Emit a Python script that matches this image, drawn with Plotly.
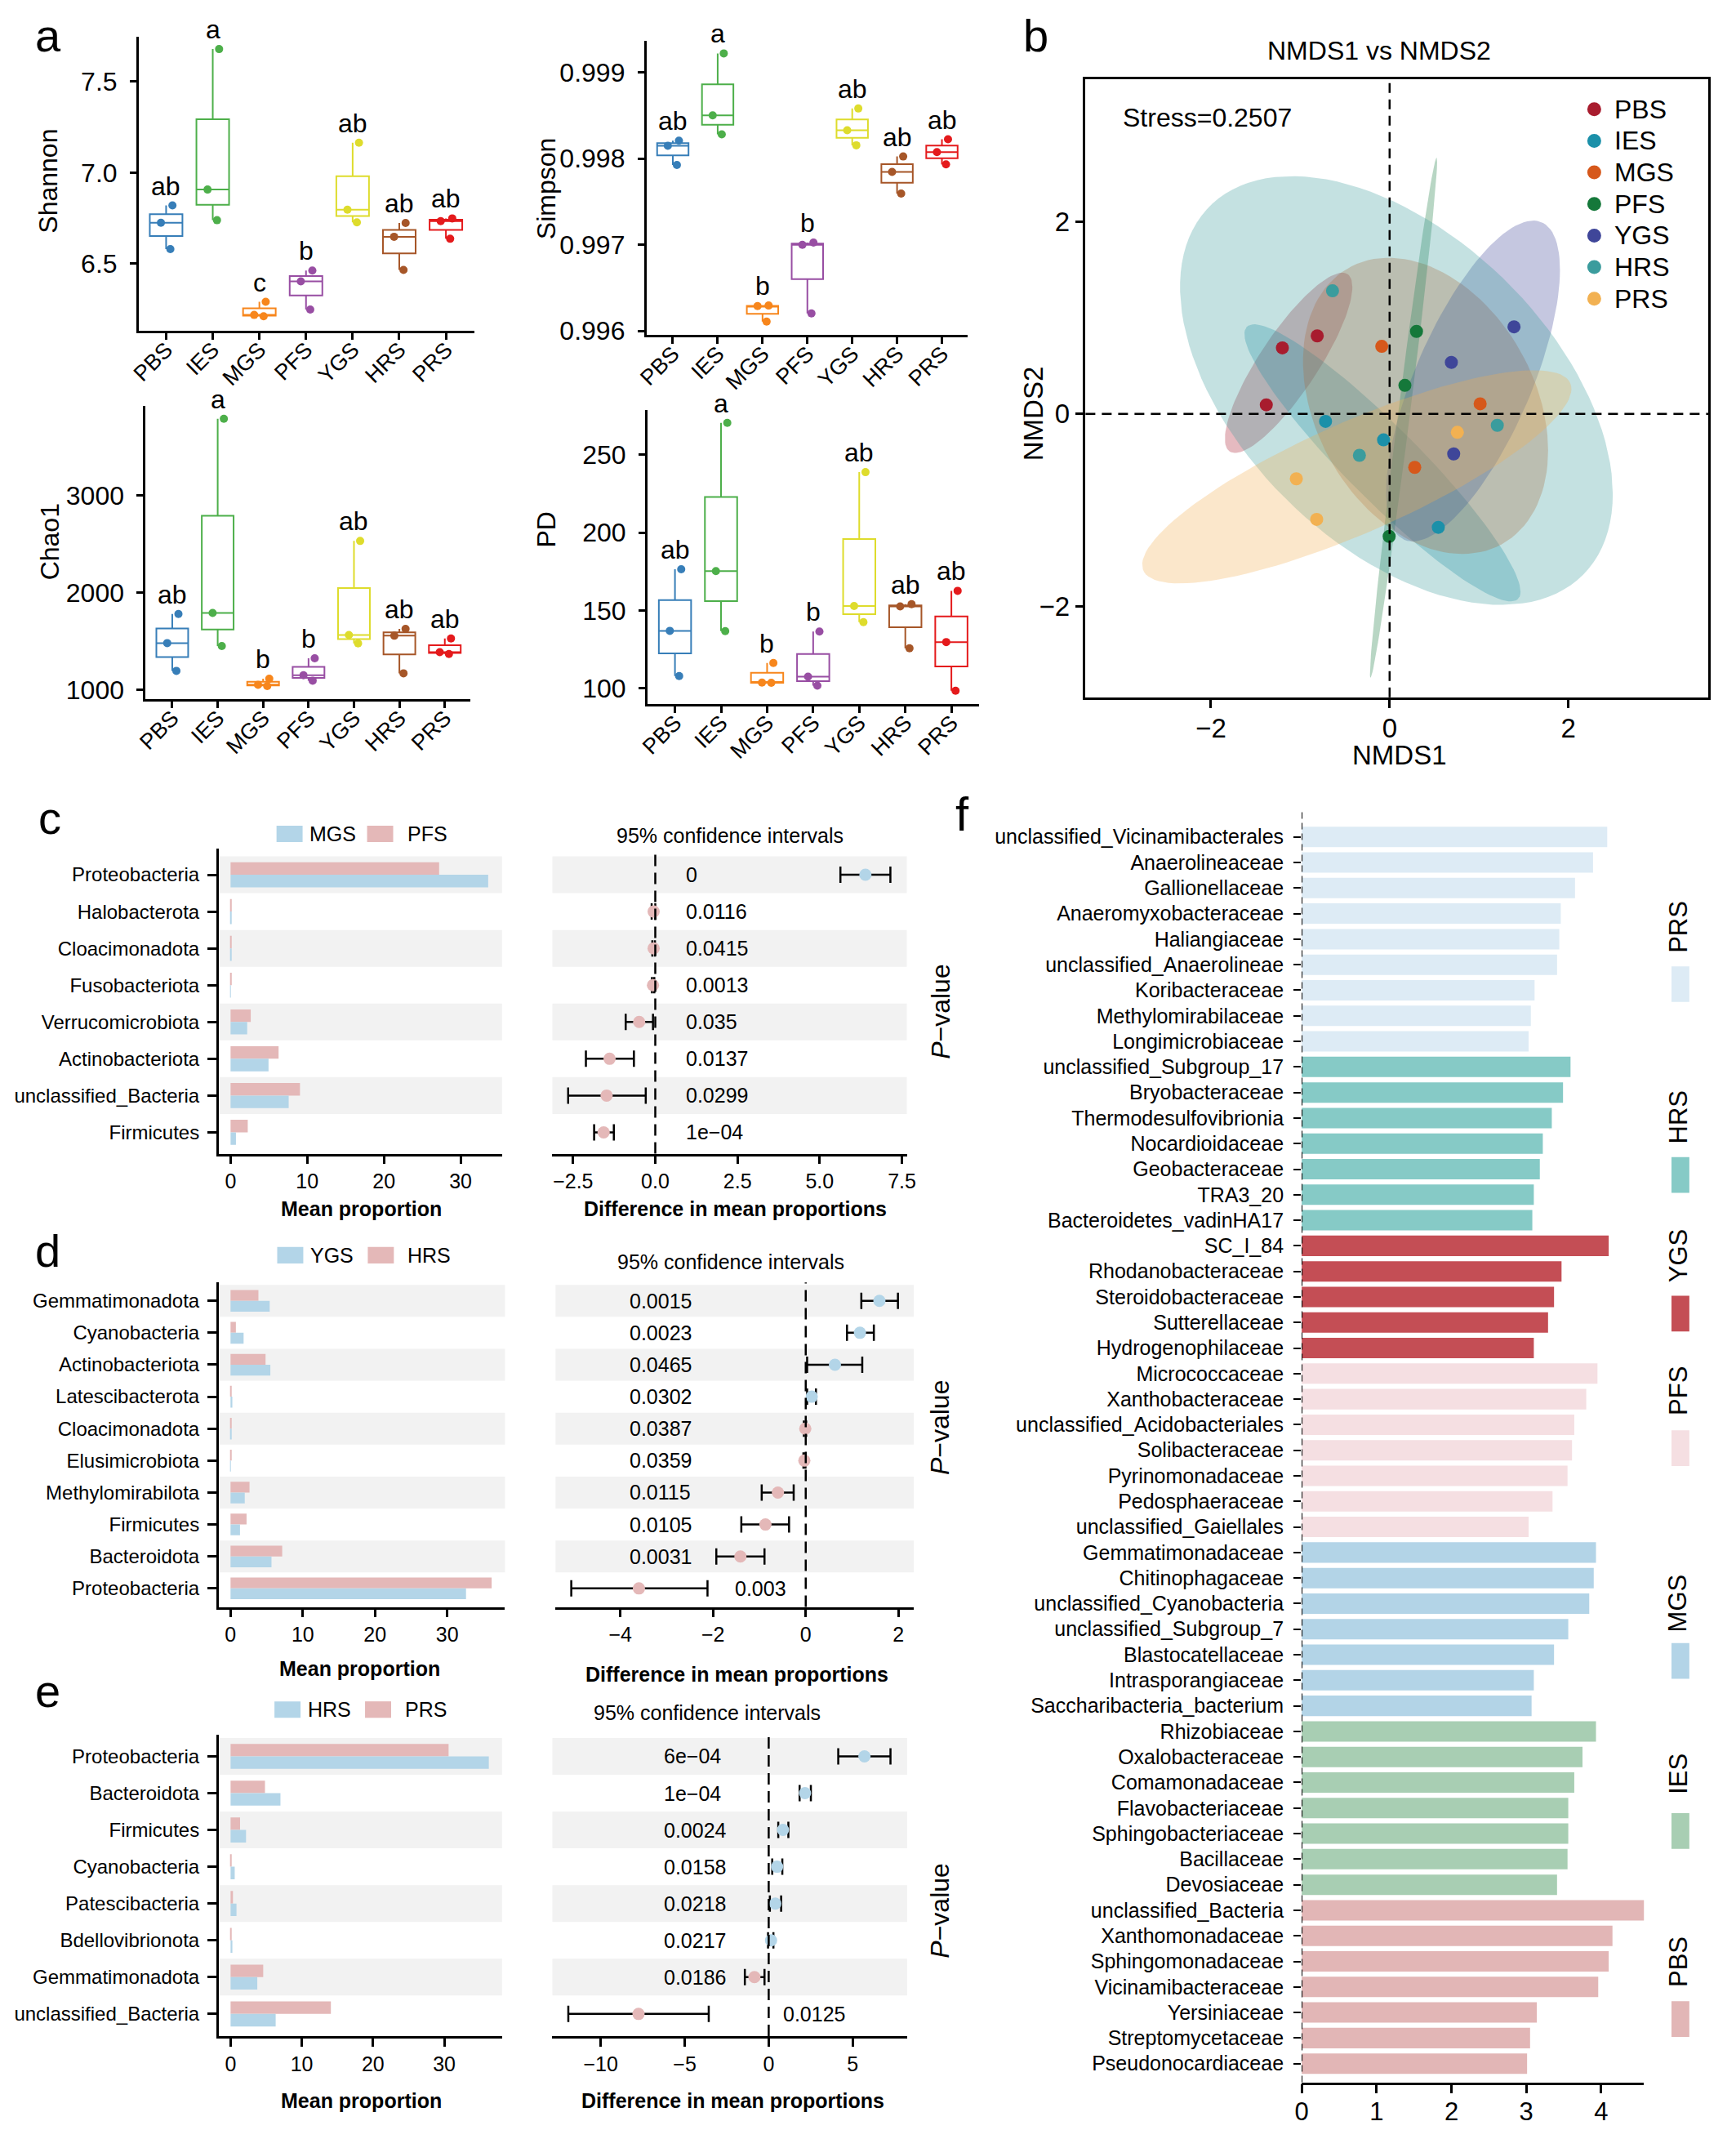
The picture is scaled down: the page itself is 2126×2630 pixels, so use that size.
import numpy as np
import plotly.graph_objects as go

W, H = 2126, 2630
K = W / 1265.0          # layout below measured on a 1265 px wide copy
OFF = 8                 # page margin of the html body, in px
FONT = 'Liberation Sans, Arial, Helvetica, sans-serif'

groups = ['PBS', 'IES', 'MGS', 'PFS', 'YGS', 'HRS', 'PRS']

# ---- panel a: alpha diversity (3 samples per group) ----
shannon = {
    'PBS': [6.820, 6.725, 6.580], 'IES': [7.678, 6.907, 6.739],
    'MGS': [6.291, 6.219, 6.212], 'PFS': [6.463, 6.403, 6.249],
    'YGS': [7.164, 6.797, 6.727], 'HRS': [6.724, 6.648, 6.466],
    'PRS': [6.749, 6.734, 6.637],
}
simpson = {
    'PBS': [0.998209, 0.998149, 0.997927], 'IES': [0.999222, 0.998503, 0.998282],
    'MGS': [0.996294, 0.996288, 0.996108], 'PFS': [0.997025, 0.997000, 0.996203],
    'YGS': [0.998582, 0.998329, 0.998155], 'HRS': [0.998025, 0.997845, 0.997595],
    'PRS': [0.998225, 0.998076, 0.997934],
}
chao1 = {
    'PBS': [1781, 1481, 1195], 'IES': [3792, 1792, 1450],
    'MGS': [1114, 1052, 1038], 'PFS': [1324, 1150, 1094],
    'YGS': [2533, 1565, 1478], 'HRS': [1627, 1557, 1170],
    'PRS': [1529, 1388, 1369],
}
pd_index = {
    'PBS': [176.4, 136.9, 107.9], 'IES': [270.5, 175.3, 136.7],
    'MGS': [116.3, 103.7, 103.5], 'PFS': [136.5, 107.5, 101.7],
    'YGS': [238.8, 152.8, 142.5], 'HRS': [154.0, 152.6, 125.7],
    'PRS': [162.6, 129.7, 98.4],
}
shannon_letters = ['ab', 'a', 'c', 'b', 'ab', 'ab', 'ab']
simpson_letters = ['ab', 'a', 'b', 'b', 'ab', 'ab', 'ab']
chao1_letters = ['ab', 'a', 'b', 'b', 'ab', 'ab', 'ab']
pd_letters = ['ab', 'a', 'b', 'b', 'ab', 'ab', 'ab']

# ---- panel b: NMDS scores ----
nmds1 = {
    'PBS': [-1.200, -0.810, -1.380], 'IES': [-0.717, -0.068, 0.545],
    'MGS': [-0.088, 1.013, 0.281], 'PFS': [0.301, 0.171, -0.005],
    'YGS': [1.392, 0.691, 0.717], 'HRS': [-0.639, -0.338, 1.205],
    'PRS': [-1.044, -0.816, 0.758],
}
nmds2 = {
    'PBS': [0.686, 0.810, 0.094], 'IES': [-0.078, -0.270, -1.179],
    'MGS': [0.701, 0.104, -0.556], 'PFS': [0.857, 0.296, -1.273],
    'YGS': [0.904, 0.535, -0.416], 'HRS': [1.278, -0.431, -0.119],
    'PRS': [-0.675, -1.096, -0.192],
}
stress = 0.2507

# ---- panel c: MGS vs PFS ----
c_cats = ['Proteobacteria', 'Halobacterota', 'Cloacimonadota', 'Fusobacteriota',
          'Verrucomicrobiota', 'Actinobacteriota', 'unclassified_Bacteria', 'Firmicutes']
c_mgs = [33.6, 0.05, 0.05, 0.03, 2.17, 4.95, 7.58, 0.70]
c_pfs = [27.2, 0.15, 0.12, 0.15, 2.63, 6.26, 9.05, 2.24]
c_diff = [6.39, -0.05, -0.05, -0.07, -0.49, -1.39, -1.48, -1.57]
c_lo = [5.63, -0.11, -0.09, -0.10, -0.90, -2.11, -2.65, -1.86]
c_hi = [7.15, 0.00, -0.01, -0.03, -0.07, -0.65, -0.29, -1.26]
c_p = ['0', '0.0116', '0.0415', '0.0013', '0.035', '0.0137', '0.0299', '1e\u221204']

# ---- panel d: YGS vs HRS ----
d_cats = ['Gemmatimonadota', 'Cyanobacteria', 'Actinobacteriota', 'Latescibacterota',
          'Cloacimonadota', 'Elusimicrobiota', 'Methylomirabilota', 'Firmicutes',
          'Bacteroidota', 'Proteobacteria']
d_ygs = [5.42, 1.81, 5.51, 0.25, 0.05, 0.04, 1.97, 1.31, 5.67, 32.6]
d_hrs = [3.86, 0.74, 4.85, 0.10, 0.10, 0.08, 2.63, 2.22, 7.15, 36.15]
d_diff = [1.59, 1.17, 0.63, 0.13, -0.01, -0.03, -0.60, -0.87, -1.41, -3.60]
d_lo = [1.20, 0.89, 0.03, 0.03, -0.04, -0.05, -0.95, -1.39, -1.93, -5.06]
d_hi = [1.99, 1.47, 1.22, 0.22, 0.01, -0.005, -0.26, -0.36, -0.89, -2.12]
d_p = ['0.0015', '0.0023', '0.0465', '0.0302', '0.0387', '0.0359', '0.0115',
       '0.0105', '0.0031', '0.003']

# ---- panel e: HRS vs PRS ----
e_cats = ['Proteobacteria', 'Bacteroidota', 'Firmicutes', 'Cyanobacteria',
          'Patescibacteria', 'Bdellovibrionota', 'Gemmatimonadota', 'unclassified_Bacteria']
e_hrs = [36.25, 7.00, 2.17, 0.58, 0.83, 0.25, 3.75, 6.33]
e_prs = [30.6, 4.83, 1.33, 0.10, 0.33, 0.10, 4.58, 14.08]
e_diff = [5.70, 2.16, 0.85, 0.50, 0.39, 0.14, -0.85, -7.75]
e_lo = [4.14, 1.84, 0.57, 0.21, 0.07, -0.04, -1.42, -11.93]
e_hi = [7.25, 2.51, 1.17, 0.81, 0.74, 0.28, -0.25, -3.57]
e_p = ['6e\u221204', '1e\u221204', '0.0024', '0.0158', '0.0218', '0.0217', '0.0186', '0.0125']

# ---- panel f: LDA scores of biomarkers ----
f_names = [
    'unclassified_Vicinamibacterales', 'Anaerolineaceae', 'Gallionellaceae',
    'Anaeromyxobacteraceae', 'Haliangiaceae', 'unclassified_Anaerolineae',
    'Koribacteraceae', 'Methylomirabilaceae', 'Longimicrobiaceae',
    'unclassified_Subgroup_17', 'Bryobacteraceae', 'Thermodesulfovibrionia',
    'Nocardioidaceae', 'Geobacteraceae', 'TRA3_20', 'Bacteroidetes_vadinHA17',
    'SC_I_84', 'Rhodanobacteraceae', 'Steroidobacteraceae', 'Sutterellaceae',
    'Hydrogenophilaceae',
    'Micrococcaceae', 'Xanthobacteraceae', 'unclassified_Acidobacteriales',
    'Solibacteraceae', 'Pyrinomonadaceae', 'Pedosphaeraceae', 'unclassified_Gaiellales',
    'Gemmatimonadaceae', 'Chitinophagaceae', 'unclassified_Cyanobacteria',
    'unclassified_Subgroup_7', 'Blastocatellaceae', 'Intrasporangiaceae',
    'Saccharibacteria_bacterium',
    'Rhizobiaceae', 'Oxalobacteraceae', 'Comamonadaceae', 'Flavobacteriaceae',
    'Sphingobacteriaceae', 'Bacillaceae', 'Devosiaceae',
    'unclassified_Bacteria', 'Xanthomonadaceae', 'Sphingomonadaceae',
    'Vicinamibacteraceae', 'Yersiniaceae', 'Streptomycetaceae', 'Pseudonocardiaceae',
]
f_vals = [4.08, 3.89, 3.65, 3.46, 3.44, 3.41, 3.11, 3.06, 3.03,
          3.59, 3.49, 3.34, 3.22, 3.18, 3.10, 3.08,
          4.10, 3.47, 3.37, 3.29, 3.10,
          3.95, 3.80, 3.64, 3.61, 3.55, 3.35, 3.03,
          3.93, 3.90, 3.84, 3.56, 3.37, 3.10, 3.07,
          3.93, 3.75, 3.64, 3.56, 3.56, 3.55, 3.41,
          4.59, 4.15, 4.10, 3.96, 3.14, 3.05, 3.01]
f_group = (['PRS'] * 9 + ['HRS'] * 7 + ['YGS'] * 5 + ['PFS'] * 7
           + ['MGS'] * 7 + ['IES'] * 7 + ['PBS'] * 7)
f_legend = ['PRS', 'HRS', 'YGS', 'PFS', 'MGS', 'IES', 'PBS']

# ---- colours ----
box_col = {'PBS': '#377EB8', 'IES': '#4DAF4A', 'MGS': '#F7861C', 'PFS': '#984EA3',
           'YGS': '#DEDC2C', 'HRS': '#A65628', 'PRS': '#E41A1C'}
nmds_col = {'PBS': '#A81C2E', 'IES': '#1B90A9', 'MGS': '#D6581B', 'PFS': '#15783A',
            'YGS': '#3F4699', 'HRS': '#3B9C9D', 'PRS': '#F2B152'}
f_col = {'PRS': '#DDEBF5', 'HRS': '#86CAC6', 'YGS': '#C44E55', 'PFS': '#F5DFE2',
         'MGS': '#B3D4E7', 'IES': '#A8CEB3', 'PBS': '#E2B6B6'}
BLUE = '#B3D5E8'
PINK = '#E4B8B8'
BAND = '#F2F2F2'


def px(x):
    return (x * K - OFF) / W


def py(y):
    return 1 - (y * K - OFF) / H


def hex_rgba(h, a):
    h = h.lstrip('#')
    return 'rgba(%d,%d,%d,%s)' % (int(h[0:2], 16), int(h[2:4], 16), int(h[4:6], 16), a)


def axis_style(size=32, **kw):
    base = dict(showline=True, linecolor='black', linewidth=2.5, ticks='outside',
                ticklen=8, tickwidth=2.5, tickcolor='black', showgrid=False,
                zeroline=False, automargin=False,
                tickfont=dict(family=FONT, size=size, color='black'))
    base.update(kw)
    return base


def note(x, y, text, size, **kw):
    a = dict(x=px(x), y=py(y), xref='paper', yref='paper', text=text, showarrow=False,
             xanchor='center', yanchor='middle',
             font=dict(family=FONT, size=size, color='black'))
    a.update(kw)
    return a


fig = go.Figure()
layout = {}
shapes = []
annotations = []

# ================= panel a =================
alpha_panels = [
    ('Shannon', shannon, shannon_letters,
     dict(x=(101, 346), y=(27, 241), xr=(-0.59, 6.62), yr=(6.132, 7.744),
          dtick=0.5, fmt='.1f', title=(35, 132))),
    ('Simpson', simpson, simpson_letters,
     dict(x=(471, 705), y=(30, 244), xr=(-0.59, 6.57), yr=(0.995953, 0.999364),
          dtick=0.001, fmt='.3f', title=(398, 137))),
    ('Chao1', chao1, chao1_letters,
     dict(x=(106, 343), y=(295.5, 509.4), xr=(-0.59, 6.57), yr=(903, 3927),
          dtick=1000, fmt='d', title=(36, 395))),
    ('PD', pd_index, pd_letters,
     dict(x=(471.7, 713.4), y=(298.6, 512.8), xr=(-0.6, 6.6), yr=(90.0, 278.8),
          dtick=50, fmt='d', title=(398, 386))),
]

for i, (name, vals, letters, g) in enumerate(alpha_panels):
    n = '' if i == 0 else str(i + 1)
    xa, ya = 'x' + n, 'y' + n
    for grp in groups:
        fig.add_box(x=[grp] * len(vals[grp]), y=vals[grp], xaxis=xa, yaxis=ya,
                    line=dict(color=box_col[grp], width=2), fillcolor='rgba(255,255,255,0)',
                    boxpoints='all', jitter=0.5, pointpos=0, width=0.7, whiskerwidth=0,
                    quartilemethod='inclusive', marker=dict(color=box_col[grp], size=10),
                    showlegend=False, hoverinfo='y')
    for grp, letter in zip(groups, letters):
        annotations.append(dict(x=grp, y=max(vals[grp]), xref=xa, yref=ya, text=letter,
                                showarrow=False, xanchor='center', yanchor='bottom', yshift=4,
                                font=dict(family=FONT, size=32, color='black')))
    layout['xaxis' + n] = axis_style(size=27, domain=[px(g['x'][0]), px(g['x'][1])],
                                     anchor=ya, type='category', categoryorder='array',
                                     categoryarray=groups, range=list(g['xr']),
                                     tickangle=-45, ticklabelstandoff=-14)
    layout['yaxis' + n] = axis_style(domain=[py(g['y'][1]), py(g['y'][0])], anchor=xa,
                                     range=list(g['yr']), dtick=g['dtick'],
                                     tickformat=g['fmt'], ticklabelstandoff=9)
    annotations.append(note(g['title'][0], g['title'][1], name, 32, textangle=-90))

annotations.append(note(35, 26, 'a', 56))


# ================= panel b =================
def ellipse(xs, ys, npts=120):
    pts = np.column_stack([xs, ys])
    centre = pts.mean(axis=0)
    chol = np.linalg.cholesky(np.cov(pts.T))
    t = np.linspace(0, 2 * np.pi, npts)
    ring = np.sqrt(5.991) * chol @ np.vstack([np.cos(t), np.sin(t)])
    return centre[0] + ring[0], centre[1] + ring[1]


for grp in groups:
    ex, ey = ellipse(nmds1[grp], nmds2[grp])
    fig.add_scatter(x=ex, y=ey, xaxis='x5', yaxis='y5', mode='lines', fill='toself',
                    fillcolor=hex_rgba(nmds_col[grp], 0.3), line=dict(width=0),
                    showlegend=False, hoverinfo='skip')
for grp in groups:
    fig.add_scatter(x=nmds1[grp], y=nmds2[grp], xaxis='x5', yaxis='y5', mode='markers',
                    marker=dict(size=16, color=nmds_col[grp]), name=grp, showlegend=False)

layout['xaxis5'] = axis_style(size=33, domain=[px(791), px(1245)], anchor='y5',
                              range=[-3.403, 3.569], dtick=2, mirror=True, ticklen=10,
                              ticklabelstandoff=-3)
layout['yaxis5'] = axis_style(size=33, domain=[py(508), py(57.5)], anchor='x5',
                              range=[-2.945, 3.48], dtick=2, mirror=True, ticklen=10)
for xref, yref, xs, ys in [('x5', 'y5 domain', (0, 0), (0, 1)),
                           ('x5 domain', 'y5', (0, 1), (0, 0))]:
    shapes.append(dict(type='line', xref=xref, yref=yref, x0=xs[0], x1=xs[1],
                       y0=ys[0], y1=ys[1], line=dict(color='black', width=2.5, dash='12px,8px')))
annotations.extend([
    note(755, 26, 'b', 56),
    note(1005, 37, 'NMDS1 vs NMDS2', 32),
    note(817, 85.5, 'Stress=%.4f' % stress, 32, xanchor='left'),
    note(1020, 550, 'NMDS1', 33),
    note(753, 301.5, 'NMDS2', 33, textangle=-90),
])
# legend of panel b: dot + label per group
r = 8.5
for k, grp in enumerate(groups):
    yc = 79.6 + 23 * k
    shapes.append(dict(type='circle', xref='paper', yref='paper',
                       x0=px(1161.7) - r / W, x1=px(1161.7) + r / W,
                       y0=py(yc) - r / H, y1=py(yc) + r / H,
                       fillcolor=nmds_col[grp], line=dict(width=0)))
    annotations.append(note(1175, yc, grp, 32, xanchor='left'))


# ================= panels c, d, e =================
def stamp(nl, nr, cats, first, second, diff, lo, hi, pvals, names, g):
    xl, yl, xr, yr = 'x%d' % nl, 'y%d' % nl, 'x%d' % nr, 'y%d' % nr
    fig.add_bar(y=cats, x=second, orientation='h', width=0.34, offset=-0.34,
                marker=dict(color=PINK, line=dict(width=0)), xaxis=xl, yaxis=yl,
                showlegend=False, hoverinfo='x')
    fig.add_bar(y=cats, x=first, orientation='h', width=0.34, offset=0.0,
                marker=dict(color=BLUE, line=dict(width=0)), xaxis=xl, yaxis=yl,
                showlegend=False, hoverinfo='x')
    diff, lo, hi = np.array(diff), np.array(lo), np.array(hi)
    fig.add_scatter(x=diff, y=cats, xaxis=xr, yaxis=yr, mode='markers',
                    marker=dict(size=15, color=[BLUE if v > 0 else PINK for v in diff]),
                    error_x=dict(type='data', symmetric=False, array=hi - diff,
                                 arrayminus=diff - lo, color='black', thickness=2.5, width=10),
                    showlegend=False)
    top, bottom = g['y']
    ydom = [py(bottom), py(top)]
    yrange = list(g['yr'])
    layout['xaxis%d' % nl] = axis_style(size=25, domain=[px(g['xl'][0]), px(g['xl'][1])],
                                        anchor=yl, range=list(g['xlr']), dtick=10, tick0=0,
                                        ticklen=10)
    layout['yaxis%d' % nl] = axis_style(size=24, domain=ydom, anchor=xl, type='category',
                                        categoryorder='array', categoryarray=cats,
                                        range=yrange, ticklen=11, ticklabelstandoff=5)
    layout['xaxis%d' % nr] = axis_style(size=25, domain=[px(g['xr'][0]), px(g['xr'][1])],
                                        anchor=yr, range=list(g['xrr']), dtick=g['dt'],
                                        tick0=0, tickformat=g['fmt'], ticklen=10)
    layout['yaxis%d' % nr] = dict(domain=ydom, anchor=xr, type='category',
                                  categoryorder='array', categoryarray=cats, range=yrange,
                                  showline=False, showticklabels=False, ticks='',
                                  showgrid=False, zeroline=False, automargin=False)
    for k in range(0, len(cats), 2):
        for xa, ya in [(xl, yl), (xr, yr)]:
            shapes.append(dict(type='rect', xref=xa + ' domain', yref=ya, x0=0, x1=1,
                               y0=k - 0.5, y1=k + 0.5, fillcolor=BAND, line=dict(width=0),
                               layer='below'))
    shapes.append(dict(type='line', xref=xr, yref=yr + ' domain', x0=0, x1=0, y0=0, y1=1,
                       line=dict(color='black', width=2.5, dash='14px,8px')))
    for k, (cat, p) in enumerate(zip(cats, pvals)):
        x_text = g['p_last'] if k == len(cats) - 1 else g['p_x']
        annotations.append(dict(x=x_text, y=cat, xref=xr, yref=yr, text=p, showarrow=False,
                                xanchor='left', yanchor='middle',
                                font=dict(family=FONT, size=25, color='black')))
    lx, ly = g['legend']
    shapes.append(dict(type='rect', xref='paper', yref='paper', x0=px(lx), x1=px(lx + 19),
                       y0=py(ly + 6), y1=py(ly - 6), fillcolor=BLUE, line=dict(width=0)))
    shapes.append(dict(type='rect', xref='paper', yref='paper', x0=px(lx + 66),
                       x1=px(lx + 85), y0=py(ly + 6), y1=py(ly - 6), fillcolor=PINK,
                       line=dict(width=0)))
    annotations.extend([
        note(lx + 23, ly, names[0], 25, xanchor='left'),
        note(lx + 94, ly, names[1], 25, xanchor='left'),
        note(g['letter'][0], g['letter'][1], g['letter'][2], 56),
        note(g['ci_title'][0], g['ci_title'][1], '95% confidence intervals', 25),
        note(g['mean_t'][0], g['mean_t'][1], '<b>Mean proportion</b>', 25),
        note(g['diff_t'][0], g['diff_t'][1], '<b>Difference in mean proportions</b>', 25),
        note(685, g['pval_y'], '<i>P</i>\u2212value', 32, textangle=-90),
    ])


stamp(6, 7, c_cats, c_mgs, c_pfs, c_diff, c_lo, c_hi, c_p, ('MGS', 'PFS'),
      dict(y=(618, 840.5), yr=(7.58, -0.72), xl=(159.3, 365.8), xlr=(-1.56, 35.4),
           xr=(402.5, 660.8), xrr=(-3.13, 7.65), dt=2.5, fmt='.1f', p_x=0.88, p_last=0.88,
           legend=(201.5, 607.5), letter=(36, 596, 'c'), ci_title=(532, 608.5),
           mean_t=(263, 880.5), diff_t=(536, 880.5), pval_y=737))
stamp(8, 9, d_cats, d_ygs, d_hrs, d_diff, d_lo, d_hi, d_p, ('YGS', 'HRS'),
      dict(y=(934.3, 1170.7), yr=(9.58, -0.575), xl=(159.3, 368), xlr=(-1.65, 38.0),
           xr=(404.8, 665.8), xrr=(-5.40, 2.33), dt=2, fmt='d', p_x=-3.83, p_last=-1.56,
           legend=(202, 914.5), letter=(35, 911, 'd'), ci_title=(532.5, 919.5),
           mean_t=(262, 1215.5), diff_t=(537, 1219.5), pval_y=1040))
stamp(10, 11, e_cats, e_hrs, e_prs, e_diff, e_lo, e_hi, e_p, ('HRS', 'PRS'),
      dict(y=(1264, 1483.3), yr=(7.6, -0.58), xl=(159.3, 365.8), xlr=(-1.68, 38.1),
           xr=(402.5, 661), xrr=(-12.88, 8.24), dt=5, fmt='d', p_x=-6.33, p_last=0.74,
           legend=(200, 1245.5), letter=(35, 1232, 'e'), ci_title=(515, 1248),
           mean_t=(263, 1530.3), diff_t=(534, 1530.3), pval_y=1392))

# ================= panel f =================
fig.add_bar(y=f_names, x=f_vals, orientation='h', width=0.8, xaxis='x12', yaxis='y12',
            marker=dict(color=[f_col[g] for g in f_group], line=dict(width=0)),
            showlegend=False, hoverinfo='x')
layout['xaxis12'] = axis_style(size=31, domain=[px(948.5), px(1197.9)], anchor='y12',
                               range=[0, 4.57], dtick=1, tick0=0, ticklen=11,
                               ticklabelstandoff=-4)
layout['yaxis12'] = axis_style(size=25, domain=[py(1517), py(590)], anchor='x12',
                               type='category', categoryorder='array',
                               categoryarray=f_names, range=[48.73, -1.06],
                               showline=False, ticklen=9, tickwidth=2, ticklabelstandoff=7)
shapes.append(dict(type='line', xref='x12', yref='y12 domain', x0=0, x1=0, y0=0, y1=1,
                   line=dict(color='black', width=2, dash='8px,5px')))
annotations.append(note(701, 593, 'f', 58))
f_legend_y = [675, 814, 915, 1013, 1168, 1292, 1429]   # label centres
for grp, yc in zip(f_legend, f_legend_y):
    annotations.append(note(1223, yc, grp, 31, textangle=-90))
    shapes.append(dict(type='rect', xref='paper', yref='paper', x0=px(1218), x1=px(1231),
                       y0=py(yc + 55), y1=py(yc + 29), fillcolor=f_col[grp],
                       line=dict(width=0)))

fig.update_layout(width=W, height=H, margin=dict(l=0, r=0, t=0, b=0),
                  paper_bgcolor='white', plot_bgcolor='white', barmode='overlay',
                  showlegend=False, font=dict(family=FONT, color='black'),
                  shapes=shapes, annotations=annotations, **layout)

fig.write_html("out.html")
